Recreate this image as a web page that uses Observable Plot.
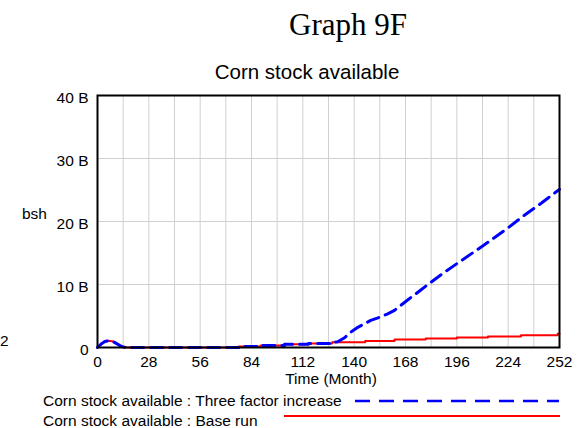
<!DOCTYPE html>
<html>
<head>
<meta charset="utf-8">
<script src="https://cdn.jsdelivr.net/npm/d3@7"></script>
<script src="https://cdn.jsdelivr.net/npm/@observablehq/plot@0.6"></script>
<style>
  html, body { margin: 0; padding: 0; background: #fff; }
  #wrap { position: relative; width: 581px; height: 428px; overflow: hidden; font-family: "Liberation Sans", Arial, sans-serif; }
  .abs { position: absolute; white-space: nowrap; color: #000; }
</style>
</head>
<body>
<div id="wrap"></div>
<script>
// ---- data (values in billions of bushels) ----
const title = "Graph 9F";
const subtitle = "Corn stock available";
const xLabel = "Time (Month)";
const yUnit = "bsh";
const xTicks = [0, 28, 56, 84, 112, 140, 168, 196, 224, 252];
const yTicks = [0, 10, 20, 30, 40];
const xGrid = d3.range(0, 253, 14);

const baseName = "Corn stock available : Base run";
const baseT = [0, 2, 4, 6, 8, 10, 12, 14, 16, 77, 77, 89, 89, 102, 102, 115, 115, 128, 128, 146, 146, 162, 162, 179, 179, 196, 196, 213, 213, 231, 231, 251, 251, 252];
const baseV = [0, 0.55, 0.95, 1.08, 1.0, 0.7, 0.35, 0.08, 0, 0, 0.15, 0.15, 0.3, 0.3, 0.5, 0.5, 0.65, 0.65, 0.85, 0.85, 1.05, 1.05, 1.27, 1.27, 1.43, 1.43, 1.59, 1.59, 1.75, 1.75, 1.96, 1.96, 2.17, 2.17];

const threeName = "Corn stock available : Three factor increase";
const threeT = [0, 2, 4, 6, 8, 10, 12, 14, 16, 77, 77, 89, 89, 102, 102, 115, 115, 128, 128, 131, 135, 138, 142, 149, 154, 158, 162, 169, 176, 183, 190, 196, 204, 213, 224, 231, 242, 252];
const threeV = [0, 0.55, 0.95, 1.08, 1.0, 0.7, 0.35, 0.08, 0, 0, 0.15, 0.15, 0.3, 0.3, 0.5, 0.5, 0.65, 0.65, 0.8, 0.9, 1.6, 2.4, 3.2, 4.3, 4.8, 5.3, 5.9, 7.5, 9.05, 10.6, 12.1, 13.3, 14.9, 16.7, 19.0, 20.6, 22.9, 25.1];

const base = baseT.map((t, i) => ({t, v: baseV[i]}));
const three = threeT.map((t, i) => ({t, v: threeV[i]}));

const FONT = "Liberation Sans, Arial, sans-serif";

const chart = Plot.plot({
  width: 581,
  height: 428,
  marginTop: 95,
  marginBottom: 81,
  marginLeft: 97,
  marginRight: 22,
  style: {fontFamily: FONT, fontSize: "15.5px", color: "#000", background: "transparent"},
  x: {domain: [0, 252]},
  y: {domain: [0, 40]},
  marks: [
    Plot.ruleX(xGrid, {stroke: "#d0d0d0", strokeWidth: 1}),
    Plot.ruleY(yTicks, {stroke: "#d0d0d0", strokeWidth: 1}),
    Plot.axisX({ticks: xTicks, tickSize: 0, tickPadding: 8, label: null, fontSize: 15.5}),
    Plot.axisY({ticks: yTicks, tickSize: 0, tickPadding: 9, label: null, dy: 3,
      tickFormat: d => d === 0 ? "0" : `${d} B`, fontSize: 15.5}),
    Plot.line(base, {x: "t", y: "v", stroke: "#ff0000", strokeWidth: 2}),
    Plot.line(three, {x: "t", y: "v", stroke: "#0000ff", strokeWidth: 3, strokeDasharray: "12,7"}),
    Plot.frame({stroke: "#000", strokeWidth: 2})
  ]
});

const wrap = document.getElementById("wrap");
chart.style.position = "absolute";
chart.style.left = "0px";
chart.style.top = "0px";
wrap.appendChild(chart);

function addText(txt, css) {
  const d = document.createElement("div");
  d.className = "abs";
  d.textContent = txt;
  Object.assign(d.style, css);
  wrap.appendChild(d);
  return d;
}

addText(title, {left: "348px", top: "8px", transform: "translateX(-50%)", fontFamily: "Liberation Serif, Times New Roman, serif", fontSize: "31px", lineHeight: "34px"});
addText(subtitle, {left: "307px", top: "60px", transform: "translateX(-50%)", fontSize: "20.5px", lineHeight: "24px"});
addText(xLabel, {left: "331px", top: "370px", transform: "translateX(-50%)", fontSize: "15.5px", lineHeight: "18px"});
addText(yUnit, {left: "22px", top: "205px", fontSize: "15.5px", lineHeight: "18px"});
addText("2", {left: "0px", top: "332px", fontSize: "15.5px", lineHeight: "18px"});

// legend
addText(threeName, {left: "43px", top: "392px", fontSize: "15.5px", lineHeight: "18px"});
addText(baseName, {left: "43px", top: "412px", fontSize: "15.5px", lineHeight: "18px"});

const ns = "http://www.w3.org/2000/svg";
const leg = document.createElementNS(ns, "svg");
leg.setAttribute("width", 581);
leg.setAttribute("height", 428);
leg.style.position = "absolute";
leg.style.left = "0px";
leg.style.top = "0px";
function legLine(x1, x2, y, color, w, dash) {
  const l = document.createElementNS(ns, "line");
  l.setAttribute("x1", x1); l.setAttribute("x2", x2);
  l.setAttribute("y1", y); l.setAttribute("y2", y);
  l.setAttribute("stroke", color); l.setAttribute("stroke-width", w);
  if (dash) l.setAttribute("stroke-dasharray", dash);
  leg.appendChild(l);
}
legLine(355, 559, 401, "#0000ff", 2.5, "15,9");
legLine(284, 560, 416, "#ff0000", 2, null);
wrap.appendChild(leg);
</script>
</body>
</html>
